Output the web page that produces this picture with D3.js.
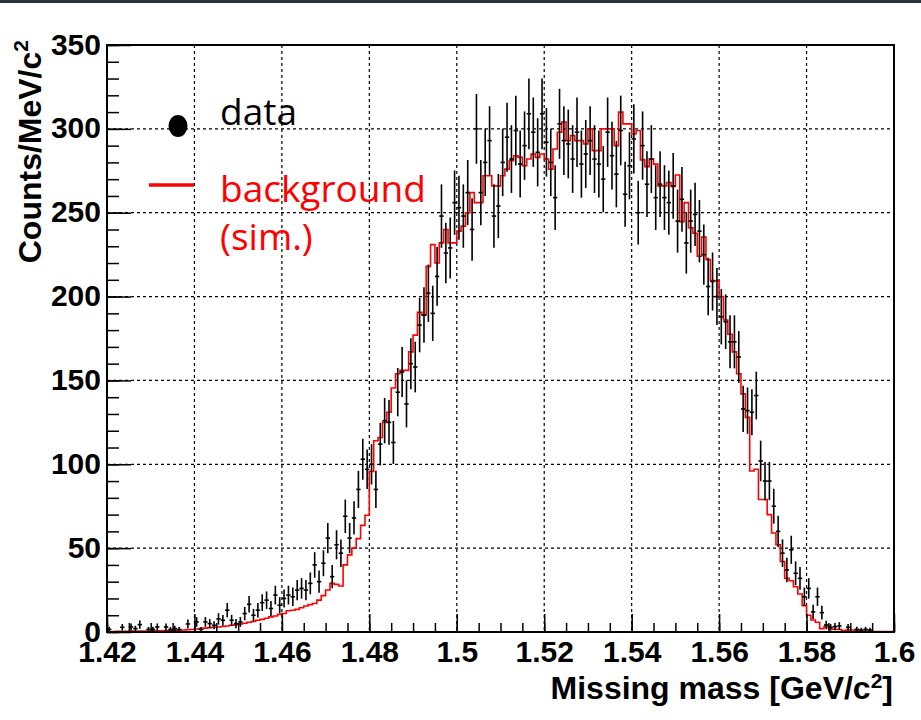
<!DOCTYPE html>
<html>
<head>
<meta charset="utf-8">
<script src="https://cdn.jsdelivr.net/npm/d3@7"></script>
<style>
  html, body { margin: 0; padding: 0; background: #ffffff; }
  svg { display: block; }
</style>
</head>
<body>
<script>
// ---------------- DATA ----------------
const binStart = 1.42;      // lower edge of first bin [GeV/c^2]
const binWidth = 0.001;     // 1 MeV bins
const nBins = 180;

// measured data (counts / MeV/c^2), one per bin
const dataValues = [
  1.6,0,0,2.8,0,3,2,4.4,0,1.6, 1.6,3,0,3,1.5,2,1.5,0,4.8,0,
  6,1.5,6,5,4,7.8,7,13,7,5, 6,11,16.5,10,13,17.5,19,14,22,16,
  20,22,21,25,26,25,29,40,30,41, 56,33,52,47,69,56,68,85,103,97,
  100,85,112,126,125,113,143,155,136,160, 158,183,189,202,190,212,248,226,229,256,
  253,248,262,240,300,262,280,293,248,254, 280,295,282,299,279,290,309,298,286,309,
  292,280,259,303,293,291,282,298,279,285, 293,282,279,270,298,284,273,299,261,278,
  294,250,290,267,282,259,267,259,256,266, 245,258,232,245,249,239,225,206,209,200,
  188,185,173,173,164,133,132,131,141,102, 90,90,75,60,47,37,49,35,32,21,
  26,12,21,11.5,4.2,2.8,3.2,3.6,0,2.8, 0,1.6,1.2,1.6,1.2,0,0,0,0,0
];
// statistical error bars of the data, one per bin
const dataErrors = [
  1.5,0,0,2.0,0,2.1,1.7,2.5,0,1.5, 1.5,2.1,0,2.1,1.5,1.7,1.5,0,2.6,0,
  2.9,1.5,2.9,2.7,2.4,3.4,3.2,4.3,3.2,2.7, 2.9,4.0,4.9,3.8,4.3,5.0,5.2,4.5,5.6,4.8,
  5.4,5.6,5.5,6.0,6.1,6.0,6.5,7.6,6.6,7.7, 9.0,6.9,8.7,8.2,10.0,9.0,9.9,11.1,12.2,11.8,
  12.0,11.1,12.7,13.5,13.4,12.8,14.4,14.9,14.0,15.2, 15.1,16.2,16.5,17.1,16.5,17.5,18.9,18.0,18.2,19.2,
  19.1,18.9,19.4,18.6,20.8,19.4,20.1,20.5,18.9,19.1, 20.1,20.6,20.2,20.8,20.0,20.4,21.1,20.7,20.3,21.1,
  20.5,20.1,19.3,20.9,20.5,20.5,20.2,20.7,20.0,20.3, 20.5,20.2,20.0,19.7,20.7,20.2,19.8,20.8,19.4,20.0,
  20.6,19.0,20.4,19.6,20.2,19.3,19.6,19.3,19.2,19.6, 18.8,19.3,18.3,18.8,18.9,18.6,18.0,17.2,17.3,17.0,
  16.5,16.3,15.8,15.8,15.4,13.8,13.8,13.7,14.2,12.1, 11.4,11.4,10.4,9.3,8.2,7.3,8.4,7.1,6.8,5.5,
  6.1,4.2,5.5,4.1,2.5,2.0,2.1,2.3,0,2.0, 0,1.5,1.3,1.5,1.3,0,0,0,0,0
];
// simulated background (counts / MeV/c^2), one per bin
const backgroundValues = [
  0.3,0.3,0.4,0.3,0.4,0.5,0.4,0.5,0.5,0.6, 0.6,0.7,0.7,0.8,0.9,1.0,1.1,1.2,1.4,1.5,
  1.8,2.0,2.3,2.6,2.8,3.0,3.3,3.6,4.0,4.3, 4.8,5.2,5.8,6.3,7.0,7.5,8.2,9.0,9.5,10.5,
  11,12.7,13,13.5,14.5,15.5,16.3,17,19,21.7, 25,29,28.4,27.4,40,46,50,55.7,63.6,69.6,
  95.8,114,116,125,131,145.5,154,156,156,167, 177,190.6,189,218,231,220,232,240,232,232,
  239,242,250,262,256,256,272,272,266,266, 272,276,281,284,283,278,282,285,283,285,
  282,276,288,298,304,293,296,293,293,291, 300,287,287,300,300,300,290,310,303,303,
  297,299,281.5,277.5,282,279,266,266,268,265.6, 272.5,244.7,256,241,237.8,224,235.5,222,209.5,209.5,
  200,186,177.5,167,154,142,128,96,97,79, 79,70,59,52,42,32,30.6,27,22.7,15.7,
  10,7.2,5.8,2,3.2,1.8,1.6,1.5,0.8,1.2, 1.2,0.8,0.5,0.5,0.3,0.3,0.3,0.3,0.3,0.3
];

const xTickValues = [1.42,1.44,1.46,1.48,1.50,1.52,1.54,1.56,1.58,1.60];
const xTickLabels = ["1.42","1.44","1.46","1.48","1.5","1.52","1.54","1.56","1.58","1.6"];
const yTickValues = [0,50,100,150,200,250,300,350];
const yTickLabels = ["0","50","100","150","200","250","300","350"];
const legendLabels = ["data", "background", "(sim.)"];
const xTitle = "Missing mass [GeV/c";
const yTitle = "Counts/MeV/c";

// ---------------- LAYOUT ----------------
const W = 921, H = 720;
const L = 107, R = 894, T = 45, B = 632;

const svg = d3.select("body").append("svg")
  .attr("width", W).attr("height", H)
  .attr("viewBox", `0 0 ${W} ${H}`);

svg.append("rect").attr("x",0).attr("y",0).attr("width",W).attr("height",H).attr("fill","#ffffff");
svg.append("rect").attr("x",0).attr("y",0).attr("width",W).attr("height",3).attr("fill","#2b333c");

const x = d3.scaleLinear().domain([1.42, 1.60]).range([L, R]);
const y = d3.scaleLinear().domain([0, 350]).range([B, T]);

const bins = d3.range(nBins).map(i => ({
  lo: binStart + i * binWidth,
  hi: binStart + (i + 1) * binWidth,
  v: dataValues[i], e: dataErrors[i], bg: backgroundValues[i]
}));

// ---------------- GRID ----------------
const grid = svg.append("g").attr("stroke", "#000").attr("stroke-width", 1.2)
  .attr("stroke-dasharray", "3,3").attr("fill", "none");
grid.selectAll("line.gx").data(xTickValues.slice(1, -1)).join("line")
  .attr("x1", d => x(d)).attr("x2", d => x(d)).attr("y1", T).attr("y2", B);
grid.selectAll("line.gy").data(yTickValues.slice(1, -1)).join("line")
  .attr("y1", d => y(d)).attr("y2", d => y(d)).attr("x1", L).attr("x2", R);

// ---------------- BACKGROUND HISTOGRAM ----------------
const stepPts = bins.map(b => [b.lo, b.bg]);
stepPts.push([bins[nBins-1].hi, bins[nBins-1].bg]);
const stepLine = d3.line().x(d => x(d[0])).y(d => y(d[1])).curve(d3.curveStepAfter);
svg.append("path").datum(stepPts)
  .attr("d", stepLine)
  .attr("fill", "none").attr("stroke", "#ff0000").attr("stroke-width", 1.6);

// ---------------- DATA POINTS ----------------
const pts = svg.append("g").attr("stroke", "#000").attr("stroke-width", 1.6).attr("fill","none");
const shown = bins.filter(b => b.v > 0);
pts.selectAll("line.v").data(shown).join("line").attr("class","v")
  .attr("x1", b => x((b.lo + b.hi) / 2)).attr("x2", b => x((b.lo + b.hi) / 2))
  .attr("y1", b => y(Math.max(0, b.v - b.e))).attr("y2", b => y(b.v + b.e));
pts.selectAll("line.h").data(shown).join("line").attr("class","h")
  .attr("x1", b => x(b.lo)).attr("x2", b => x(b.hi))
  .attr("y1", b => y(b.v)).attr("y2", b => y(b.v));

// ---------------- AXES ----------------
const fontTicks = "'Liberation Sans', Arial, sans-serif";
// y minor
svg.append("g").attr("transform", `translate(${L},0)`)
  .call(d3.axisLeft(y).tickValues(d3.range(0, 351, 10)).tickSize(-12).tickFormat(""))
  .call(g => g.select(".domain").remove())
  .call(g => g.selectAll("line").attr("stroke-width", 1.5));
// y major
svg.append("g").attr("transform", `translate(${L},0)`)
  .call(d3.axisLeft(y).tickValues(yTickValues).tickSize(-24).tickPadding(6)
        .tickFormat((d, i) => yTickLabels[i]))
  .call(g => g.select(".domain").remove())
  .call(g => g.selectAll("line").attr("stroke-width", 1.5))
  .call(g => g.selectAll("text").attr("font-family", fontTicks).attr("font-weight", "bold")
        .attr("font-size", 30).attr("fill", "#000").attr("dy", "0.3em"));
// x minor
svg.append("g").attr("transform", `translate(0,${B})`)
  .call(d3.axisBottom(x).tickValues(d3.range(0, 37).map(i => 1.42 + i * 0.005)).tickSize(-9).tickFormat(""))
  .call(g => g.select(".domain").remove())
  .call(g => g.selectAll("line").attr("stroke-width", 1.5));
// x major
svg.append("g").attr("transform", `translate(0,${B})`)
  .call(d3.axisBottom(x).tickValues(xTickValues).tickSize(-18).tickPadding(9)
        .tickFormat((d, i) => xTickLabels[i]))
  .call(g => g.select(".domain").remove())
  .call(g => g.selectAll("line").attr("stroke-width", 1.5))
  .call(g => g.selectAll("text").attr("font-family", fontTicks).attr("font-weight", "bold")
        .attr("font-size", 30).attr("fill", "#000"));

// frame
svg.append("rect").attr("x", L).attr("y", T).attr("width", R - L).attr("height", B - T)
  .attr("fill", "none").attr("stroke", "#000").attr("stroke-width", 2);

// ---------------- TITLES ----------------
const xt = svg.append("text").attr("x", R - 1).attr("y", 699).attr("text-anchor", "end")
  .attr("font-family", fontTicks).attr("font-weight", "bold").attr("font-size", 32).attr("fill", "#000");
xt.append("tspan").text(xTitle);
xt.append("tspan").attr("dy", -11).attr("font-size", 21).text("2");
xt.append("tspan").attr("dy", 11).text("]");

const yt = svg.append("text").attr("transform", "translate(41,40) rotate(-90)")
  .attr("text-anchor", "end")
  .attr("font-family", fontTicks).attr("font-weight", "bold").attr("font-size", 32).attr("fill", "#000");
yt.append("tspan").text(yTitle);
yt.append("tspan").attr("dy", -13).attr("font-size", 21).text("2");

// ---------------- LEGEND ----------------
const fontLeg = "'Open Sans', 'DejaVu Sans', sans-serif";
svg.append("ellipse").attr("cx", 178).attr("cy", 126).attr("rx", 9.5).attr("ry", 11).attr("fill", "#000");
svg.append("line").attr("x1", 149).attr("x2", 194).attr("y1", 185).attr("y2", 185)
  .attr("stroke", "#ff0000").attr("stroke-width", 3.5);
svg.append("text").attr("x", 220).attr("y", 125).attr("font-family", fontLeg).attr("font-size", 37)
  .attr("fill", "#000").text(legendLabels[0]);
svg.append("text").attr("x", 220).attr("y", 202).attr("font-family", fontLeg).attr("font-size", 37)
  .attr("fill", "#ff0000").text(legendLabels[1]);
svg.append("text").attr("x", 220).attr("y", 250).attr("font-family", fontLeg).attr("font-size", 37)
  .attr("fill", "#ff0000").text(legendLabels[2]);
</script>
</body>
</html>
